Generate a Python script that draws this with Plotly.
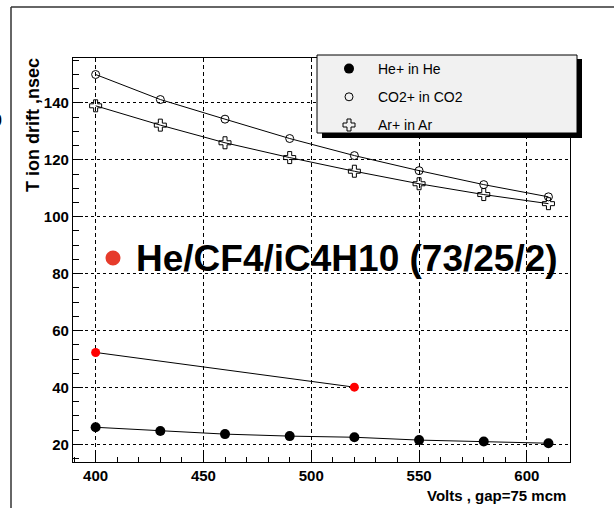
import plotly.graph_objects as go

# ---- data ----
volts = [400, 430, 460, 490, 520, 550, 580, 610]
he_in_he = [26.0, 24.7, 23.6, 22.9, 22.5, 21.5, 21.0, 20.4]
co2_in_co2 = [150.0, 141.2, 134.3, 127.5, 121.5, 116.2, 111.3, 107.0]
ar_in_ar = [139.0, 132.2, 126.0, 120.8, 116.0, 111.6, 107.8, 104.6]
mix_volts = [400, 520]
mix_vals = [52.3, 40.1]

series_names = ["He+ in He", "CO2+ in CO2", "Ar+ in Ar"]
x_ticks = [400, 450, 500, 550, 600]
y_ticks = [20, 40, 60, 80, 100, 120, 140]
mix_label = "He/CF4/iC4H10 (73/25/2)"
x_title = "Volts , gap=75 mcm"
y_title = "T ion drift ,nsec"

FONT = "Liberation Sans, Arial, Helvetica, sans-serif"

# ---- geometry (pixels) ----
W, H = 614, 508
L, R, T, B = 73, 44, 58, 46
PW, PH = W - L - R, H - T - B


def px(xp):
    return (xp - L) / PW


def py(yp):
    return (H - B - yp) / PH


fig = go.Figure()

series = [
    (he_in_he, series_names[0], dict(symbol="circle", size=10, color="black"), "a"),
    (co2_in_co2, series_names[1], dict(symbol="circle-open", size=8, color="black", line=dict(width=1)), "b"),
    (ar_in_ar, series_names[2], dict(symbol="cross-open", size=10, color="black", line=dict(width=1)), "c"),
]
for vals, name, mk, grp in series:
    fig.add_trace(go.Scatter(x=volts, y=vals, mode="lines", showlegend=False,
                             line=dict(color="black", width=1), hoverinfo="skip"))
for vals, name, mk, grp in series:
    fig.add_trace(go.Scatter(x=volts, y=vals, mode="markers", name=name,
                             marker=mk, legendgroup=grp))

fig.add_trace(go.Scatter(
    x=mix_volts, y=mix_vals, mode="lines+markers", showlegend=False,
    line=dict(color="black", width=1),
    marker=dict(symbol="circle", size=9, color="#ff0000")))

axis_common = dict(
    showline=True, mirror=True, linecolor="black", linewidth=1.2,
    showgrid=True, gridcolor="black", gridwidth=1,
    ticks="inside", tickcolor="black",
    tickfont=dict(family=FONT, size=15, color="black", weight="bold"),
    zeroline=False, fixedrange=True,
)

fig.update_xaxes(
    range=[389.5, 620], tickvals=x_ticks, ticklen=9, griddash="4px,3px",
    minor=dict(ticks="inside", ticklen=5, dtick=10, tick0=0, showgrid=False, tickcolor="black"),
    **axis_common)
fig.update_yaxes(
    range=[13.8, 155.8], tickvals=y_ticks, ticklen=10, griddash="3px,3px",
    minor=dict(ticks="inside", ticklen=6, dtick=5, tick0=0, showgrid=False, tickcolor="black"),
    **axis_common)

shapes = [
    # outer canvas frame (left and top edges)
    dict(type="line", xref="paper", yref="paper", x0=px(11), x1=px(11), y0=py(7), y1=py(510),
         line=dict(color="#333333", width=1.5)),
    dict(type="line", xref="paper", yref="paper", x0=px(11), x1=px(616), y0=py(7), y1=py(7),
         line=dict(color="#333333", width=1.5)),
    # legend shadow and box
    dict(type="rect", xref="paper", yref="paper", x0=px(322), x1=px(582), y0=py(59), y1=py(138),
         fillcolor="black", line=dict(width=0), layer="above"),
    dict(type="rect", xref="paper", yref="paper", x0=px(317), x1=px(577), y0=py(55), y1=py(133),
         fillcolor="#f1f1f1", line=dict(color="black", width=1), layer="above"),
    # red bullet of the mixture label
    dict(type="circle", xref="paper", yref="paper", x0=px(105.5), x1=px(120.5), y0=py(265.5), y1=py(250.5),
         fillcolor="#e63b2b", line=dict(width=0), layer="above"),
]

annotations = [
    dict(text=mix_label, xref="paper", yref="paper", x=px(134), y=py(258),
         xanchor="left", yanchor="middle", showarrow=False,
         font=dict(family=FONT, size=37, color="black", weight="bold")),
    dict(text=x_title, xref="paper", yref="paper", x=px(568), y=py(495),
         xanchor="right", yanchor="middle", showarrow=False,
         font=dict(family=FONT, size=15, color="black", weight="bold")),
    dict(text=y_title, xref="paper", yref="paper", x=px(33), y=py(56),
         xanchor="center", yanchor="top", textangle=-90, showarrow=False,
         font=dict(family=FONT, size=18, color="black", weight="bold")),
    dict(text="0", xref="paper", yref="paper", x=px(4), y=py(120),
         xanchor="right", yanchor="middle", showarrow=False,
         font=dict(family=FONT, size=16, color="black", weight="bold")),
]

fig.update_layout(
    width=W, height=H,
    margin=dict(l=L, r=R, t=T, b=B, pad=0),
    paper_bgcolor="white", plot_bgcolor="white",
    showlegend=True,
    legend=dict(
        x=px(320), y=py(53), xanchor="left", yanchor="top",
        bgcolor="rgba(0,0,0,0)", borderwidth=0,
        font=dict(family=FONT, size=14, color="black"),
        traceorder="grouped", tracegroupgap=7, itemwidth=48,
    ),
    shapes=shapes,
    annotations=annotations,
)

fig.write_html("out.html", config={"displayModeBar": False},
               post_script="document.body.style.margin='0px';document.body.style.padding='0px';")
